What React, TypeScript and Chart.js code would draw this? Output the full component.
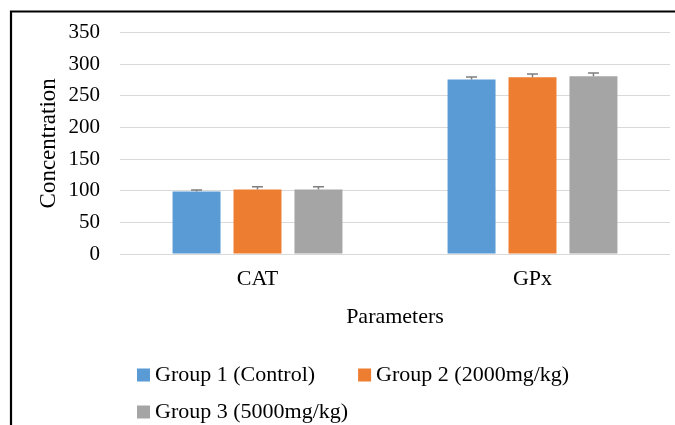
import React, { useEffect, useRef } from "react";
import { Chart, registerables } from "chart.js";

Chart.register(...registerables);

const categories = ["CAT", "GPx"];
const seriesNames = ["Group 1 (Control)", "Group 2 (2000mg/kg)", "Group 3 (5000mg/kg)"];
const group1 = [99, 276];
const group2 = [102, 279.5];
const group3 = [102, 281];
const group1Err = [2, 4];
const group2Err = [4.5, 5];
const group3Err = [4.5, 5];
const yTicks = [0, 50, 100, 150, 200, 250, 300, 350];
const colors = ["#5B9BD5", "#ED7D31", "#A5A5A5"];

const FONT = "'Liberation Serif', 'Times New Roman', serif";

const framePlugin = {
  id: "frame",
  beforeDraw(chart: any) {
    const ctx = chart.ctx;
    ctx.save();
    ctx.fillStyle = "#ffffff";
    ctx.fillRect(0, 0, chart.width, chart.height);
    ctx.strokeStyle = "#000000";
    ctx.lineWidth = 2.2;
    ctx.beginPath();
    ctx.moveTo(11, chart.height + 10);
    ctx.lineTo(11, 11.5);
    ctx.lineTo(chart.width + 10, 11.5);
    ctx.stroke();
    ctx.restore();
  },
};

const errorBarPlugin = {
  id: "errorBars",
  afterDatasetsDraw(chart: any) {
    const ctx = chart.ctx;
    const y = chart.scales.y;
    ctx.save();
    ctx.strokeStyle = "#7F7F7F";
    ctx.lineWidth = 1.5;
    chart.data.datasets.forEach((ds: any, di: number) => {
      const meta = chart.getDatasetMeta(di);
      meta.data.forEach((bar: any, i: number) => {
        const v = ds.data[i];
        const e = ds.errors[i];
        const yTop = y.getPixelForValue(v + e);
        const yBase = y.getPixelForValue(v);
        const x = bar.x;
        ctx.beginPath();
        ctx.moveTo(x, yBase);
        ctx.lineTo(x, yTop);
        ctx.moveTo(x - 5.5, yTop);
        ctx.lineTo(x + 5.5, yTop);
        ctx.stroke();
      });
    });
    ctx.restore();
  },
};

const legendPlugin = {
  id: "customLegend",
  afterDraw(chart: any) {
    const ctx = chart.ctx;
    ctx.save();
    ctx.font = `22px ${FONT}`;
    ctx.textBaseline = "middle";
    ctx.textAlign = "left";
    const startX = 137;
    const maxRight = 610;
    let x = startX;
    let y = 375;
    chart.data.datasets.forEach((ds: any) => {
      const w = ctx.measureText(ds.label).width;
      const itemW = 18 + w;
      if (x !== startX && x + itemW > maxRight) {
        x = startX;
        y += 37;
      }
      ctx.fillStyle = ds.backgroundColor;
      ctx.fillRect(x, y - 6.5, 13, 13);
      ctx.fillStyle = "#000000";
      ctx.fillText(ds.label, x + 18, y);
      x += itemW + 43;
    });
    ctx.restore();
  },
};

export default function App() {
  const ref = useRef<HTMLCanvasElement | null>(null);

  useEffect(() => {
    if (!ref.current) return;
    const values = [group1, group2, group3];
    const errs = [group1Err, group2Err, group3Err];
    const chart = new Chart(ref.current, {
      type: "bar",
      data: {
        labels: categories,
        datasets: seriesNames.map((name, i) => ({
          label: name,
          data: values[i],
          errors: errs[i],
          backgroundColor: colors[i],
          borderWidth: 0,
          categoryPercentage: 0.665,
          barPercentage: 0.787,
        })) as any,
      },
      options: {
        responsive: false,
        animation: false,
        devicePixelRatio: 1,
        layout: { padding: { top: 29, left: 0, right: 5, bottom: 95 } },
        plugins: {
          legend: { display: false },
          tooltip: { enabled: false },
          title: { display: false },
        },
        scales: {
          x: {
            grid: { display: false, drawTicks: false },
            border: { display: false },
            ticks: {
              padding: 12,
              color: "#000000",
              font: { family: FONT, size: 22 },
            },
            title: {
              display: true,
              text: "Parameters",
              color: "#000000",
              font: { family: FONT, size: 22 },
              padding: { top: 0, bottom: 0 },
            },
            afterFit(scale: any) {
              scale.height = 76;
            },
          },
          y: {
            min: 0,
            max: 350,
            afterBuildTicks(scale: any) {
              scale.ticks = yTicks.map((v) => ({ value: v }));
            },
            grid: { color: "#D9D9D9", lineWidth: 1, drawTicks: false },
            border: { display: false },
            ticks: {
              padding: 20,
              color: "#000000",
              font: { family: FONT, size: 21 },
            },
            title: {
              display: true,
              text: "Concentration",
              color: "#000000",
              font: { family: FONT, size: 23 },
              padding: { top: 35, bottom: 0 },
            },
            afterFit(scale: any) {
              scale.width = 120;
            },
          },
        },
      },
      plugins: [framePlugin, errorBarPlugin, legendPlugin],
    });
    return () => chart.destroy();
  }, []);

  return (
    <div style={{ position: "absolute", left: 0, top: 0, width: 675, height: 425 }}>
      <canvas ref={ref} width={675} height={425} />
    </div>
  );
}
